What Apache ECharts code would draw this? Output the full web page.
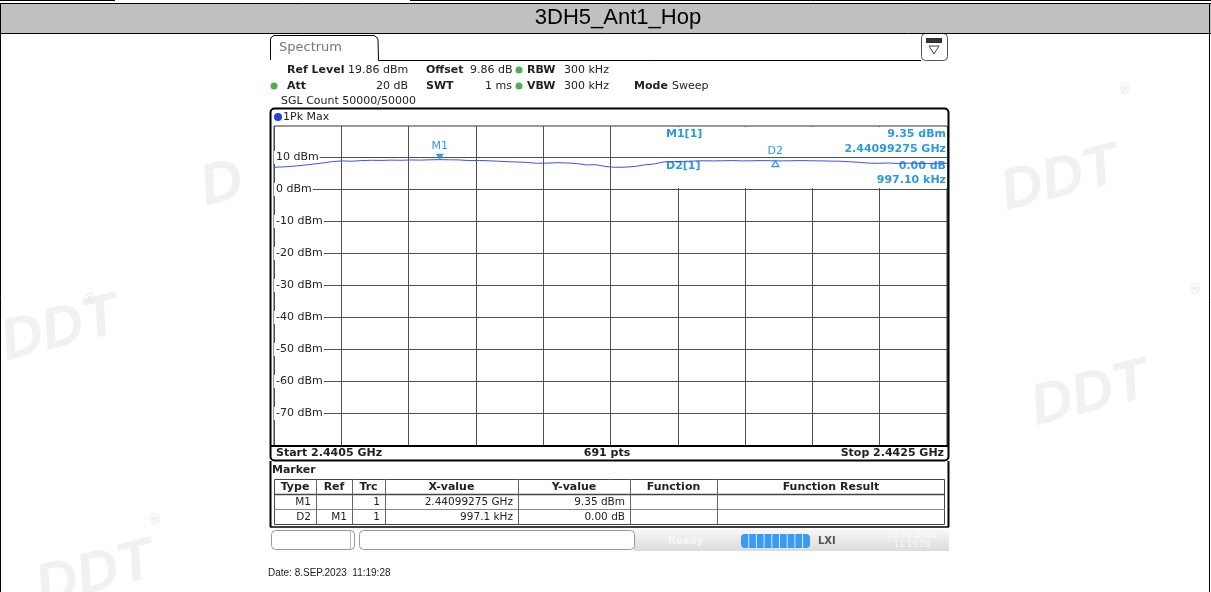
<!DOCTYPE html>
<html><head><meta charset="utf-8">
<script src="https://cdn.jsdelivr.net/npm/echarts@6/dist/echarts.min.js"></script>
<style>html,body{margin:0;padding:0;background:#fff}#c{width:1211px;height:592px}</style>
</head><body><div id="c"></div>
<script>
// ---------- data ----------
const chartTitle = '3DH5_Ant1_Hop';
const refLevelDbm = 19.86;
const rangeDb = 100;
const spanKHz = 2000;              // 2.4405 GHz .. 2.4425 GHz
const xGridStepKHz = 200;
const yTickValues = [10, 0, -10, -20, -30, -40, -50, -60, -70];
// trace: frequency offset from start (kHz) and level (dBm)
const traceFreqKHz = [0,29,58,87,116,145,174,203,232,261,290,319,348,377,406,435,464,493,522,551,580,609,638,667,696,725,754,783,812,841,870,899,928,957,986,1014,1043,1072,1101,1130,1159,1188,1217,1246,1275,1304,1333,1362,1391,1420,1449,1478,1507,1536,1565,1594,1623,1652,1681,1710,1739,1768,1797,1826,1855,1884,1913,1942,1971,2000];
const traceLevel = [6.95,7.1,7.3,7.6,7.95,8.3,8.75,8.95,8.85,9.05,9.15,9.1,9.2,9.15,9.25,9.2,9.3,9.35,9.3,9.25,9.05,9.1,9.0,8.85,8.7,8.6,8.45,8.2,8.25,8.4,8.3,8.15,7.7,7.75,7.2,6.95,7.0,7.2,7.7,8.0,8.65,8.75,8.8,8.9,9.0,8.95,9.0,9.05,8.95,9.0,9.05,9.0,8.95,9.0,9.05,9.0,8.95,8.9,8.85,8.7,8.5,8.25,8.2,8.3,8.15,8.25,8.2,8.15,8.25,8.2];
const markerNames = ['M1', 'D2'];
const markerFreqKHz = [492.75, 1489.85];
const markerLevel = [9.35, 9.35];
// marker table
const tableHeader = ['Type', 'Ref', 'Trc', 'X-value', 'Y-value', 'Function', 'Function Result'];
const tableRow1 = ['M1', '', '1', '2.44099275 GHz', '9.35 dBm', '', ''];
const tableRow2 = ['D2', 'M1', '1', '997.1 kHz', '0.00 dB', '', ''];

// ---------- drawing ----------
const F = 'DejaVu Sans, Verdana, sans-serif';
const MC = '#2b9ae0';
const g = [];
function T(x, y, s, o) {
  o = o || {};
  g.push({ type: 'text', x: x, y: y, z: o.z || 10, rotation: o.rot || 0, style: {
    text: s, x: 0, y: 0, fill: o.c || '#222', font: (o.st || '') + ' ' + (o.w || 'normal') + ' ' + (o.s || 11) + 'px ' + (o.f || F),
    textAlign: o.a || 'left', textVerticalAlign: 'middle' } });
}
function R(x, y, w, h, o) {
  o = o || {};
  g.push({ type: 'rect', z: o.z || 5, shape: { x: x, y: y, width: w, height: h, r: o.r || 0 },
    style: { fill: o.fill || 'none', stroke: o.stroke || null, lineWidth: o.lw || 1 } });
}
function L(x1, y1, x2, y2, o) {
  o = o || {};
  g.push({ type: 'line', z: o.z || 6, shape: { x1: x1, y1: y1, x2: x2, y2: y2 },
    style: { stroke: o.c || '#000', lineWidth: o.lw || 1 } });
}
function C(x, y, r, fill) { g.push({ type: 'circle', z: 10, shape: { cx: x, cy: y, r: r }, style: { fill: fill } }); }

// faint watermarks
const WM = '#f1f1f1';
[[1060, 180], [60, 330], [1090, 395], [95, 575]].forEach(p => T(p[0], p[1], 'DDT', { s: 58, w: 'bold', st: 'italic', c: WM, a: 'center', z: 0, rot: 0.25, f: 'Liberation Sans, Arial, sans-serif' }));
T(222, 185, 'D', { s: 58, w: 'bold', st: 'italic', c: WM, a: 'center', z: 0, rot: 0.25, f: 'Liberation Sans, Arial, sans-serif' });
[[1125, 90], [90, 300], [155, 520], [1195, 290]].forEach(p => T(p[0], p[1], '®', { s: 14, c: '#e8e8e8', a: 'center', z: 0 }));

// title band
R(0, 3, 1211, 30, { fill: '#c0c0c0', z: 1 });
L(0, 3.5, 1211, 3.5, { lw: 1 });
L(0, 33.5, 1211, 33.5, { lw: 1 });
L(0.5, 3, 0.5, 592, { lw: 1 });
L(1209.5, 3, 1209.5, 592, { lw: 1 });
L(0, 0.5, 115, 0.5); L(410, 0.5, 1211, 0.5);
T(618, 18, chartTitle, { s: 22, f: 'Liberation Sans, Arial, sans-serif', a: 'center', c: '#000' });

// spectrum tab
g.push({ type: 'polyline', z: 6, shape: { points: [[270.5, 60], [270.5, 39], [271.5, 37], [274, 35.5], [374, 35.5], [376.5, 37], [378, 39.5], [378.5, 60.5], [921, 60.5]] }, style: { fill: 'none', stroke: '#000', lineWidth: 1 } });
T(279, 48, 'Spectrum', { s: 13, c: '#777' });
R(921.5, 33.5, 26, 27, { stroke: '#555', r: 4, fill: '#fff' });
R(926, 38, 16, 5, { fill: '#333', z: 7 });
g.push({ type: 'polygon', z: 7, shape: { points: [[929, 46], [939, 46], [934, 54]] }, style: { fill: 'none', stroke: '#444', lineWidth: 1 } });

// settings
T(287, 70, 'Ref Level', { w: 'bold' }); T(348, 70, '19.86 dBm');
T(426, 70, 'Offset', { w: 'bold' }); T(470, 70, '9.86 dB');
C(519, 70, 3.5, '#4caf50'); T(527, 70, 'RBW', { w: 'bold' }); T(564, 70, '300 kHz');
C(274, 86, 3.5, '#4caf50'); T(287, 86, 'Att', { w: 'bold' }); T(408, 86, '20 dB', { a: 'right' });
T(426, 86, 'SWT', { w: 'bold' }); T(512, 86, '1 ms', { a: 'right' });
C(519, 86, 3.5, '#4caf50'); T(527, 86, 'VBW', { w: 'bold' }); T(564, 86, '300 kHz');
T(634, 86, 'Mode', { w: 'bold' }); T(672, 86, 'Sweep');
T(281, 101, 'SGL Count 50000/50000');

// diagram frame
R(270.5, 108.5, 678, 352, { stroke: '#000', lw: 2, r: 4, z: 8 });
C(278, 117, 4, '#2040e0'); T(283, 117, '1Pk Max');
L(271, 446, 948, 446, { lw: 2, z: 8 });
T(276, 453, 'Start 2.4405 GHz', { w: 'bold' });
T(607, 453, '691 pts', { w: 'bold', a: 'center' });
T(944, 453, 'Stop 2.4425 GHz', { w: 'bold', a: 'right' });

// marker info box (above grid, below trace)
R(663, 127, 284, 61, { fill: '#fff', z: 1 });
T(666, 134, 'M1[1]', { w: 'bold', c: MC, z: 1 });
T(946, 134, '9.35 dBm', { w: 'bold', c: MC, a: 'right', z: 1 });
T(946, 149, '2.44099275 GHz', { w: 'bold', c: MC, a: 'right', z: 1 });
T(666, 166, 'D2[1]', { w: 'bold', c: MC, z: 1 });
T(946, 166, '0.00 dB', { w: 'bold', c: MC, a: 'right', z: 1 });
T(946, 180, '997.10 kHz', { w: 'bold', c: MC, a: 'right', z: 1 });

// marker table
L(270.5, 461, 270.5, 527, { lw: 2 }); L(948.5, 461, 948.5, 527, { lw: 2 }); L(270, 527, 949, 527, { lw: 1.5 });
T(272, 470, 'Marker', { w: 'bold' });
const colX = [274, 316, 352, 385, 518, 630, 717, 945];
R(274.5, 479.5, 670, 45, { stroke: '#444' });
L(274, 494.5, 945, 494.5, { c: '#444', lw: 1.5 }); L(274, 509.5, 945, 509.5, { c: '#888' });
for (let i = 1; i < colX.length - 1; i++) L(colX[i] + 0.5, 479, colX[i] + 0.5, 524, { c: '#666' });
tableHeader.forEach((h, i) => T((colX[i] + colX[i + 1]) / 2, 487, h, { w: 'bold', a: 'center' }));
[tableRow1, tableRow2].forEach((row, r) => row.forEach((v, i) => { if (v) T(colX[i + 1] - 5, 502 + r * 15, v, { a: 'right', s: 10.5 }); }));

// status bar
R(271.5, 530.5, 83, 19, { stroke: '#999', r: 4 }); L(350.5, 531, 350.5, 549, { c: '#bbb' });
R(359.5, 530.5, 275, 19, { stroke: '#999', r: 4 });
g.push({ type: 'rect', z: 2, shape: { x: 634, y: 530, width: 315, height: 21 }, style: { fill: { type: 'linear', x: 0, y: 0, x2: 0, y2: 1, colorStops: [{ offset: 0, color: '#f6f6f6' }, { offset: 1, color: '#dcdcdc' }] } } });
T(668, 541, 'Ready', { w: 'bold', c: '#f6f6f6', s: 10 });
R(741, 534, 69, 14, { fill: '#3a9af5', r: 4, z: 6 });
for (let k = 1; k < 9; k++) L(741 + k * 7.7, 534, 741 + k * 7.7, 548, { c: '#dbeeff', z: 7 });
T(818, 541, 'LXI', { w: 'bold', c: '#555', s: 10 });
T(912, 536, '08.09.2023', { w: 'bold', c: '#f7f7f7', s: 8, a: 'center' });
T(912, 545, '11:19:28', { c: '#f7f7f7', s: 8, a: 'center' });

// date
T(268, 573, 'Date: 8.SEP.2023  11:19:28', { s: 10, f: 'Liberation Sans, Arial, sans-serif' });

const chart = echarts.init(document.getElementById('c'), null, { renderer: 'canvas' });
chart.setOption({
  animation: false,
  backgroundColor: '#fff',
  grid: { left: 274, top: 126, width: 673, height: 320, show: true, borderColor: '#333', borderWidth: 1, backgroundColor: 'transparent' },
  xAxis: {
    type: 'value', min: 0, max: spanKHz, interval: xGridStepKHz,
    axisLine: { show: false }, axisTick: { show: false }, axisLabel: { show: false },
    splitLine: { show: true, lineStyle: { color: '#505050', width: 1 } }
  },
  yAxis: {
    type: 'value', min: refLevelDbm - rangeDb, max: refLevelDbm, z: 3,
    axisLine: { show: false },
    axisTick: { show: false, customValues: yTickValues },
    splitLine: { show: true, customValues: yTickValues, lineStyle: { color: '#505050', width: 1 } },
    axisLabel: { show: true, inside: true, margin: 0, customValues: yTickValues, formatter: v => v + ' dBm',
      color: '#222', fontSize: 11, fontFamily: F, backgroundColor: '#fff', padding: [1, 1, 1, 2] }
  },
  series: [{
    type: 'line', z: 4, showSymbol: false, symbol: 'none',
    data: traceFreqKHz.map((f, i) => [f, traceLevel[i]]),
    lineStyle: { color: '#3b52f5', width: 1 },
    markPoint: {
      data: [
        { coord: [markerFreqKHz[0], markerLevel[0]], symbol: 'triangle', symbolRotate: 180, symbolSize: [8, 6], symbolOffset: [0, -3],
          itemStyle: { color: MC }, label: { show: true, formatter: markerNames[0], position: 'top', distance: 2, color: MC, fontSize: 11, fontFamily: F } },
        { coord: [markerFreqKHz[1], markerLevel[1]], symbol: 'triangle', symbolSize: [7, 6], symbolOffset: [0, 4],
          itemStyle: { color: '#fff', borderColor: MC, borderWidth: 1.2 }, label: { show: true, formatter: markerNames[1], position: 'top', distance: 3, color: MC, fontSize: 11, fontFamily: F } }
      ]
    }
  }],
  graphic: g
});
</script></body></html>
